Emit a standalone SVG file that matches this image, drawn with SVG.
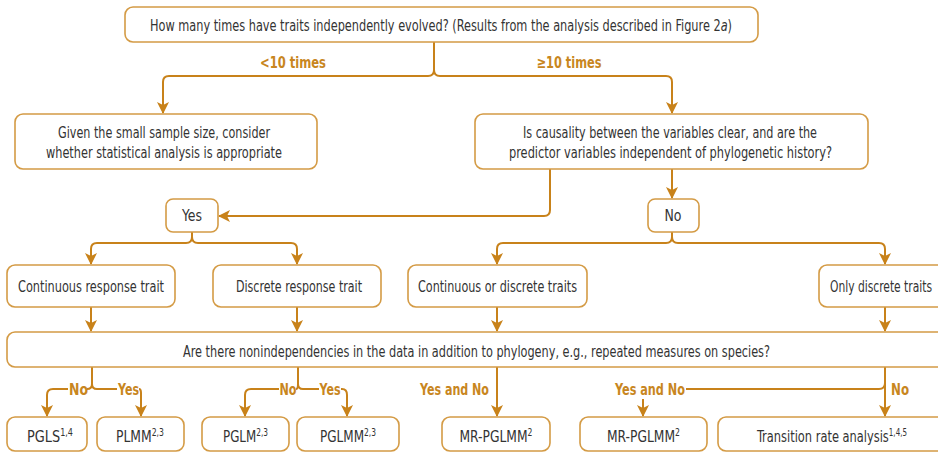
<svg xmlns="http://www.w3.org/2000/svg" width="938" height="452" viewBox="0 0 938 452">
<defs>
<marker id="ah" markerWidth="12" markerHeight="12" viewBox="0 0 12 12" refX="11" refY="6" orient="auto" markerUnits="userSpaceOnUse">
<path d="M0,0 L12,6 L0,12 L3,6 Z" fill="#C8821A"/>
</marker>
<style>
.box{fill:#fff;stroke:#D49B45;stroke-width:1.6}
.c{fill:none;stroke:#C8821A;stroke-width:2}
.a{marker-end:url(#ah)}
.t{font-family:"Liberation Sans Narrow","DejaVu Sans Condensed","Liberation Sans",sans-serif;font-size:16px;fill:#333;text-anchor:middle}
.l{font-family:"Liberation Sans Narrow","DejaVu Sans Condensed","Liberation Sans",sans-serif;font-size:16px;font-weight:bold;fill:#C8861E;text-anchor:middle}
.s{font-size:10px}
</style>
</defs>
<rect width="938" height="452" fill="#fff"/>

<g id="connectors">
<path class="c a" d="M434,42 V70 Q434,76 428,76 H169 Q163,76 163,82 V113"/>
<path class="c a" d="M434,70 Q434,76 440,76 H666 Q672,76 672,82 V113"/>
<path class="c a" d="M550,169 V210 Q550,216 544,216 H219"/>
<path class="c a" d="M672,169 V198"/>
<path class="c a" d="M192,232 V237 Q192,243 186,243 H97 Q91,243 91,249 V264"/>
<path class="c a" d="M192,237 Q192,243 198,243 H291 Q297,243 297,249 V264"/>
<path class="c a" d="M672,232 V237 Q672,243 666,243 H503 Q497,243 497,249 V264"/>
<path class="c a" d="M672,237 Q672,243 678,243 H879 Q885,243 885,249 V264"/>
<path class="c a" d="M91,307 V331"/>
<path class="c a" d="M297,307 V331"/>
<path class="c a" d="M497,307 V331"/>
<path class="c a" d="M885,307 V331"/>
<path class="c" d="M92,367 V384 Q92,389 87,389"/>
<path class="c a" d="M68,389 H53 Q47,389 47,395 V416"/>
<path class="c" d="M92,384 Q92,389 97,389 H117"/>
<path class="c a" d="M139,389 Q141,389 141,393 V416"/>
<path class="c" d="M298,367 V384 Q298,389 296,389"/>
<path class="c a" d="M279,389 H251 Q245,389 245,395 V416"/>
<path class="c" d="M298,384 Q298,389 303,389 H319"/>
<path class="c a" d="M341,389 H342 Q347,389 347,395 V416"/>
<path class="c a" d="M497,367 V416"/>
<path class="c a" d="M885,367 V416"/>
<path class="c" d="M885,383 Q885,389 879,389 H686"/>
<path class="c a" d="M643,399 V416"/>
<text class="l" x="293" y="68" textLength="66" lengthAdjust="spacingAndGlyphs">&lt;10 times</text>
<text class="l" x="569" y="68" textLength="65" lengthAdjust="spacingAndGlyphs">≥10 times</text>
<text class="l" x="78.5" y="395" textLength="19" lengthAdjust="spacingAndGlyphs">No</text>
<text class="l" x="128.5" y="395" textLength="21" lengthAdjust="spacingAndGlyphs">Yes</text>
<text class="l" x="288" y="395" textLength="17" lengthAdjust="spacingAndGlyphs">No</text>
<text class="l" x="330" y="395" textLength="21" lengthAdjust="spacingAndGlyphs">Yes</text>
<text class="l" x="454.5" y="395" textLength="69" lengthAdjust="spacingAndGlyphs">Yes and No</text>
<text class="l" x="650" y="395" textLength="70" lengthAdjust="spacingAndGlyphs">Yes and No</text>
<text class="l" x="900" y="395" textLength="18" lengthAdjust="spacingAndGlyphs">No</text>
</g>

<g id="n-top"><rect class="box" x="125" y="7" width="633" height="35" rx="8"/>
<text class="t" x="441" y="31" textLength="582" lengthAdjust="spacingAndGlyphs">How many times have traits independently evolved? (Results from the analysis described in Figure 2<tspan font-style="italic">a</tspan>)</text></g>

<g id="n-small"><rect class="box" x="15" y="114" width="302" height="55" rx="8"/>
<text class="t" x="164" y="138" textLength="212" lengthAdjust="spacingAndGlyphs">Given the small sample size, consider</text>
<text class="t" x="164" y="158" textLength="236" lengthAdjust="spacingAndGlyphs">whether statistical analysis is appropriate</text></g>

<g id="n-causal"><rect class="box" x="475" y="114" width="393" height="55" rx="8"/>
<text class="t" x="670" y="138" textLength="294" lengthAdjust="spacingAndGlyphs">Is causality between the variables clear, and are the</text>
<text class="t" x="670.5" y="158" textLength="323" lengthAdjust="spacingAndGlyphs">predictor variables independent of phylogenetic history?</text></g>

<g id="n-yes"><rect class="box" x="166" y="199" width="52" height="33" rx="7"/>
<text class="t" x="192" y="221" textLength="20" lengthAdjust="spacingAndGlyphs">Yes</text></g>

<g id="n-no"><rect class="box" x="648" y="199" width="51" height="33" rx="7"/>
<text class="t" x="673" y="221" textLength="17" lengthAdjust="spacingAndGlyphs">No</text></g>

<g id="n-contresp"><rect class="box" x="7" y="265" width="168" height="42" rx="8"/>
<text class="t" x="91" y="292" textLength="146" lengthAdjust="spacingAndGlyphs">Continuous response trait</text></g>

<g id="n-discresp"><rect class="box" x="213" y="265" width="168" height="42" rx="8"/>
<text class="t" x="299" y="292" textLength="126" lengthAdjust="spacingAndGlyphs">Discrete response trait</text></g>

<g id="n-contdisc"><rect class="box" x="408" y="265" width="179" height="42" rx="8"/>
<text class="t" x="497.5" y="292" textLength="159" lengthAdjust="spacingAndGlyphs">Continuous or discrete traits</text></g>

<g id="n-onlydisc"><rect class="box" x="819" y="265" width="130" height="42" rx="8"/>
<text class="t" x="881" y="292" textLength="102" lengthAdjust="spacingAndGlyphs">Only discrete traits</text></g>

<g id="n-nonindep"><rect class="box" x="7" y="332" width="942" height="35" rx="8"/>
<text class="t" x="476.5" y="357" textLength="587" lengthAdjust="spacingAndGlyphs">Are there nonindependencies in the data in addition to phylogeny, e.g., repeated measures on species?</text></g>

<g id="n-pgls"><rect class="box" x="7" y="417" width="80" height="34" rx="8"/>
<text class="t" x="50" y="442" textLength="46" lengthAdjust="spacingAndGlyphs">PGLS<tspan class="s" dy="-6">1,4</tspan></text></g>

<g id="n-plmm"><rect class="box" x="97" y="417" width="87" height="34" rx="8"/>
<text class="t" x="140" y="442" textLength="48" lengthAdjust="spacingAndGlyphs">PLMM<tspan class="s" dy="-6">2,3</tspan></text></g>

<g id="n-pglm"><rect class="box" x="202" y="417" width="87" height="34" rx="8"/>
<text class="t" x="245.5" y="442" textLength="45" lengthAdjust="spacingAndGlyphs">PGLM<tspan class="s" dy="-6">2,3</tspan></text></g>

<g id="n-pglmm"><rect class="box" x="297" y="417" width="102" height="34" rx="8"/>
<text class="t" x="348" y="442" textLength="56" lengthAdjust="spacingAndGlyphs">PGLMM<tspan class="s" dy="-6">2,3</tspan></text></g>

<g id="n-mr1"><rect class="box" x="442" y="417" width="108" height="34" rx="8"/>
<text class="t" x="496" y="442" textLength="73" lengthAdjust="spacingAndGlyphs">MR-PGLMM<tspan class="s" dy="-6">2</tspan></text></g>

<g id="n-mr2"><rect class="box" x="580" y="417" width="127" height="34" rx="8"/>
<text class="t" x="643.5" y="442" textLength="73" lengthAdjust="spacingAndGlyphs">MR-PGLMM<tspan class="s" dy="-6">2</tspan></text></g>

<g id="n-tra"><rect class="box" x="718" y="417" width="231" height="34" rx="8"/>
<text class="t" x="832" y="442" textLength="150" lengthAdjust="spacingAndGlyphs">Transition rate analysis<tspan class="s" dy="-6">1,4,5</tspan></text></g>
</svg>
